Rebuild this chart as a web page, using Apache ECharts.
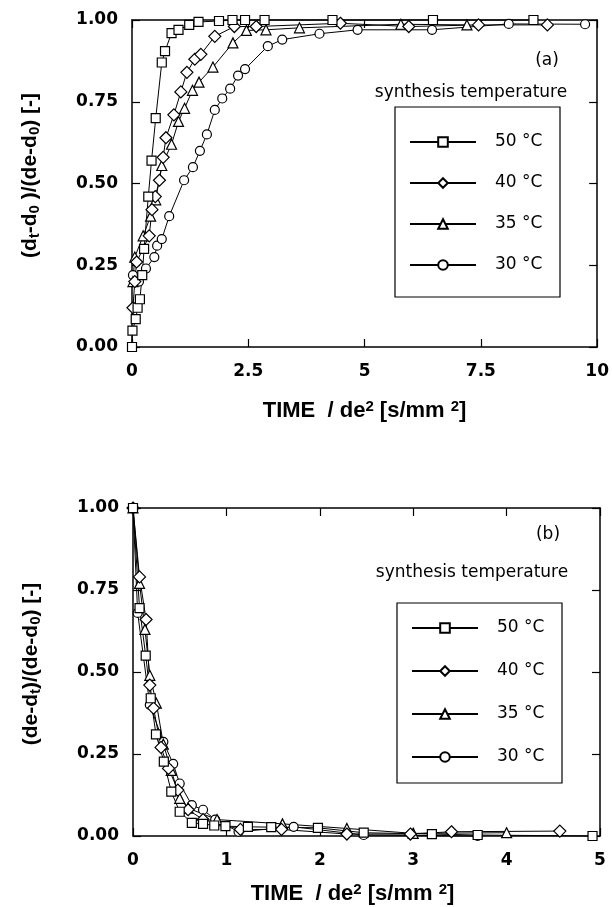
<!DOCTYPE html>
<html>
<head>
<meta charset="utf-8">
<script src="https://cdn.jsdelivr.net/npm/echarts@6/dist/echarts.min.js"></script>
<style>
  html, body { margin: 0; padding: 0; background: #fff; }
  #chart { width: 612px; height: 907px; }
</style>
</head>
<body>
<div id="chart"></div>
<script>
// series names, legend order
var tempNames = ['50 °C', '40 °C', '35 °C', '30 °C'];
var tempSymbols = ['rect', 'diamond', 'triangle', 'circle'];
var tempSizes = [9, 12, 10, 9];

// panel (a): (dt-d0)/(de-d0) against TIME/de^2
var a50 = [[0,0],[0.01,0.05],[0.08,0.085],[0.12,0.12],[0.17,0.146],[0.22,0.22],[0.26,0.30],[0.35,0.46],[0.42,0.57],[0.51,0.70],[0.64,0.87],[0.71,0.905],[0.85,0.96],[1.0,0.97],[1.23,0.985],[1.43,0.994],[1.87,0.997],[2.16,1.0],[2.43,1.0],[2.85,1.0],[4.31,1.0],[6.47,1.0],[8.63,1.0]];
var a40 = [[0.02,0.12],[0.06,0.2],[0.1,0.26],[0.37,0.34],[0.43,0.42],[0.5,0.46],[0.59,0.51],[0.67,0.58],[0.73,0.64],[0.9,0.71],[1.05,0.78],[1.18,0.84],[1.35,0.88],[1.48,0.895],[1.78,0.95],[2.2,0.98],[2.67,0.98],[4.48,0.99],[5.95,0.98],[7.45,0.985],[8.93,0.985]];
var a35 = [[0.02,0.2],[0.06,0.275],[0.24,0.34],[0.4,0.4],[0.51,0.45],[0.64,0.555],[0.85,0.62],[1.0,0.69],[1.13,0.73],[1.3,0.785],[1.44,0.81],[1.74,0.856],[2.17,0.93],[2.46,0.968],[2.88,0.97],[3.6,0.976],[5.78,0.987],[7.2,0.985]];
var a30 = [[0.02,0.22],[0.15,0.2],[0.3,0.24],[0.48,0.275],[0.54,0.31],[0.64,0.33],[0.8,0.4],[1.12,0.51],[1.31,0.55],[1.46,0.6],[1.61,0.65],[1.78,0.725],[1.94,0.76],[2.11,0.79],[2.28,0.83],[2.43,0.85],[2.92,0.92],[3.23,0.94],[4.03,0.958],[4.85,0.97],[6.45,0.97],[8.1,0.988],[9.74,0.987]];

// panel (b): (de-dt)/(de-d0) against TIME/de^2
var b50 = [[0,1],[0.07,0.695],[0.136,0.55],[0.19,0.42],[0.246,0.31],[0.33,0.227],[0.41,0.135],[0.5,0.074],[0.63,0.04],[0.75,0.037],[0.87,0.032],[0.99,0.03],[1.23,0.028],[1.48,0.027],[1.98,0.025],[2.47,0.01],[3.2,0.006],[3.69,0.003],[4.92,0]];
var b40 = [[0,1],[0.07,0.79],[0.14,0.66],[0.18,0.46],[0.22,0.39],[0.3,0.27],[0.38,0.206],[0.48,0.14],[0.59,0.08],[0.75,0.05],[1.15,0.02],[1.59,0.02],[2.29,0.006],[2.97,0.006],[3.41,0.013],[4.57,0.015]];
var b35 = [[0,1],[0.07,0.77],[0.128,0.63],[0.18,0.49],[0.25,0.405],[0.325,0.28],[0.41,0.2],[0.5,0.115],[0.59,0.085],[0.9,0.05],[1.6,0.037],[2.29,0.023],[3.0,0.008],[4.0,0.01]];
var b30 = [[0,1],[0.05,0.68],[0.18,0.4],[0.325,0.287],[0.43,0.22],[0.5,0.16],[0.63,0.094],[0.75,0.08],[0.88,0.05],[1.13,0.013],[1.72,0.028],[2.47,0.003],[3.69,0]];

var panelA = [a50, a40, a35, a30];
var panelB = [b50, b40, b35, b30];

var xTicksA = { min: 0, max: 10, interval: 2.5 };
var xTicksB = { min: 0, max: 5, interval: 1 };
var yTicks = { min: 0, max: 1, interval: 0.25 };

var tickFont = 'DejaVu Sans';
var textFont = 'DejaVu Sans';
var titleFont = 'Liberation Sans';

var chart = echarts.init(document.getElementById('chart'), null, { renderer: 'canvas' });

var frameLine = { show: true, onZero: false, lineStyle: { color: '#000', width: 1.5 } };
var inTick = { show: true, inside: true, length: 8, lineStyle: { color: '#000', width: 1.2 } };

function xAxisPair(grid, ticks, gap, pad) {
  var base = {
    type: 'value', gridIndex: grid, min: ticks.min, max: ticks.max, interval: ticks.interval,
    splitLine: { show: false }, axisLine: frameLine, axisTick: inTick
  };
  var bottom = Object.assign({}, base, {
    position: 'bottom',
    axisLabel: {
      margin: 16, color: '#000', fontSize: 17, fontWeight: 'bold', fontFamily: tickFont,
      formatter: function (v) { return String(v); }
    },
    name: '{b|TIME  / de}{p|2}{b| [s/mm }{p|2}{b|]}',
    nameLocation: 'middle', nameGap: gap,
    nameTextStyle: {
      padding: pad,
      rich: {
        b: { fontSize: 22, fontWeight: 'bold', fontFamily: titleFont, color: '#000' },
        p: { fontSize: 15, fontWeight: 'bold', fontFamily: titleFont, color: '#000', padding: [0, 0, 9, 0] }
      }
    }
  });
  var top = Object.assign({}, base, { position: 'top', axisLabel: { show: false } });
  return [bottom, top];
}

function yAxisPair(grid, nameText) {
  var base = {
    type: 'value', gridIndex: grid, min: yTicks.min, max: yTicks.max, interval: yTicks.interval,
    splitLine: { show: false }, axisLine: frameLine, axisTick: inTick
  };
  var left = Object.assign({}, base, {
    position: 'left',
    axisLabel: {
      margin: 14, color: '#000', fontSize: 17, fontWeight: 'bold', fontFamily: tickFont,
      formatter: function (v) { return v.toFixed(2); }
    },
    name: nameText, nameLocation: 'middle', nameRotate: 90, nameGap: 90,
    nameTextStyle: {
      padding: [0, 0, 0, 16],
      rich: {
        b: { fontSize: 21, fontWeight: 'bold', fontFamily: titleFont, color: '#000' },
        s: { fontSize: 15, fontWeight: 'bold', fontFamily: titleFont, color: '#000', padding: [8, 0, 0, 0] }
      }
    }
  });
  var right = Object.assign({}, base, { position: 'right', axisLabel: { show: false } });
  return [left, right];
}

var xA = xAxisPair(0, xTicksA, 52, [0, 0, 0, 0]);
var xB = xAxisPair(1, xTicksB, 46, [0, 28, 0, 0]);
var yA = yAxisPair(0, '{b|(d}{s|t}{b|-d}{s|0}{b| )/(de-d}{s|0}{b|) [-]}');
var yB = yAxisPair(1, '{b|(de-d}{s|t}{b|)/(de-d}{s|0}{b|) [-]}');

function makeSeries(lists, xIdx, yIdx) {
  var out = [];
  // draw 30 °C first so 50 °C ends on top
  for (var i = lists.length - 1; i >= 0; i--) {
    out.push({
      type: 'line', name: tempNames[i], xAxisIndex: xIdx, yAxisIndex: yIdx,
      data: lists[i], symbol: tempSymbols[i], symbolSize: tempSizes[i],
      showAllSymbol: true, clip: false, animation: false,
      lineStyle: { color: '#000', width: 1 },
      itemStyle: { color: '#fff', borderColor: '#000', borderWidth: 1.2 },
      emphasis: { disabled: true }
    });
  }
  return out;
}

function legendAt(left, top, gap) {
  return {
    data: tempNames, orient: 'vertical', left: left, top: top, padding: 0,
    itemWidth: 66, itemHeight: 12, itemGap: gap, selectedMode: false,
    textStyle: { fontSize: 17, fontFamily: textFont, color: '#000', lineHeight: 20, padding: [0, 0, 0, 14] }
  };
}

function textAt(x, y, s) {
  return {
    type: 'text', x: x, y: y,
    style: { text: s, font: '17px "DejaVu Sans"', fill: '#000', align: 'center', verticalAlign: 'middle' }
  };
}

function boxAt(x, y, w, h) {
  return {
    type: 'rect', shape: { x: x, y: y, width: w, height: h },
    style: { fill: null, stroke: '#000', lineWidth: 1.2 }
  };
}

chart.setOption({
  animation: false,
  backgroundColor: '#fff',
  grid: [
    { left: 132, top: 20, width: 467, height: 327 },
    { left: 133, top: 508, width: 467, height: 328 }
  ],
  xAxis: xA.concat(xB),
  yAxis: yA.concat(yB),
  legend: [legendAt(409, 132, 21), legendAt(411, 618, 23)],
  graphic: [
    textAt(547, 61, '(a)'),
    textAt(471, 93, 'synthesis temperature'),
    boxAt(395, 107, 165, 190),
    textAt(548, 535, '(b)'),
    textAt(472, 573, 'synthesis temperature'),
    boxAt(397, 603, 165, 180)
  ],
  series: makeSeries(panelA, 0, 0).concat(makeSeries(panelB, 2, 2))
});
</script>
</body>
</html>
